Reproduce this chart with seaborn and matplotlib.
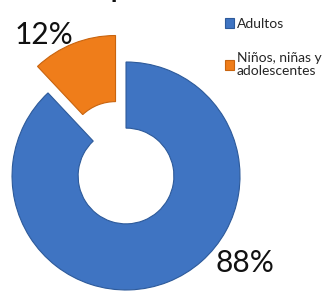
import matplotlib
matplotlib.use('Agg')
import matplotlib.pyplot as plt
import seaborn as sns

categories = ['Adultos', 'Niños, niñas y\nadolescentes']
values = [88, 12]
colors = ['#3F74C2', '#EF7D1A']

sns.set_theme(style='white')
plt.rcParams['font.family'] = ['Lato', 'DejaVu Sans']

fig = plt.figure(figsize=(3.3, 2.91), dpi=100)
ax = fig.add_axes([0, 0, 1, 1])

wedges, _ = ax.pie(values, colors=colors, startangle=90, counterclock=False,
                   explode=[0, 0.25],
                   wedgeprops=dict(width=0.58, edgecolor='#2d5a9a', linewidth=0.8))
wedges[1].set_edgecolor('#c8640f')

ax.set_xlim(-1.105, 1.789)
ax.set_ylim(-1.009, 1.544)
ax.set_aspect('equal')
ax.axis('off')

# percentage labels
ax.text(-0.72, 1.24, f'{values[1]}%', fontsize=21.5, ha='center', va='center', color='#111111')
ax.text(1.04, -0.76, f'{values[0]}%', fontsize=21.5, ha='center', va='center', color='#111111')

# clipped title fragment at the top edge
fig.text(0.333, 1.014, 'p', fontsize=26, ha='left', va='baseline', color='#111111')

leg = fig.legend(wedges, categories, loc='upper left',
                 bbox_to_anchor=(219 / 330, 1 - 12 / 291),
                 frameon=False, fontsize=10, handlelength=0.7, handleheight=0.7,
                 handletextpad=0.2, labelspacing=1.65, borderaxespad=0)
for t in leg.get_texts():
    t.set_linespacing(1.1)

fig.savefig('out.png', dpi=100)
